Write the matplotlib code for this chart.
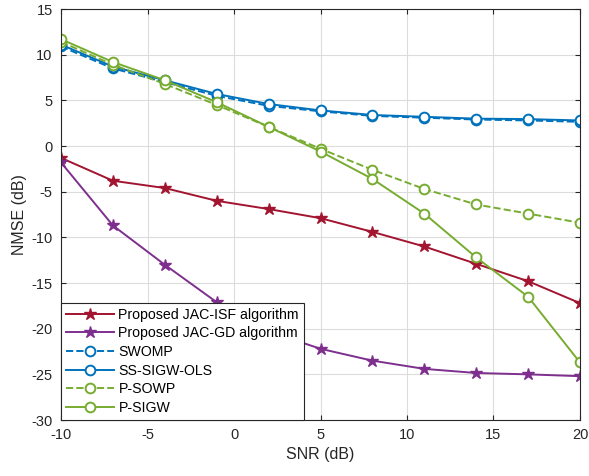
import matplotlib.pyplot as plt
import numpy as np

plt.rcParams['font.family'] = ['Liberation Sans', 'DejaVu Sans']
plt.rcParams['axes.unicode_minus'] = False

# SNR points
snr = [-10, -7, -4, -1, 2, 5, 8, 11, 14, 17, 20]

# NMSE values (dB)
jac_isf = [-1.3, -3.8, -4.6, -6.0, -6.9, -7.9, -9.4, -11.0, -12.9, -14.8, -17.2]
jac_gd = [-1.8, -8.7, -13.0, -17.1, -20.3, -22.2, -23.5, -24.4, -24.85, -25.0, -25.2]
swomp = [10.9, 8.5, 7.0, 5.5, 4.4, 3.8, 3.3, 3.1, 2.9, 2.8, 2.65]
ss_sigw_ols = [11.1, 8.7, 7.2, 5.7, 4.6, 3.9, 3.4, 3.2, 3.0, 2.95, 2.8]
p_sowp = [11.4, 8.9, 6.8, 4.5, 2.1, -0.3, -2.6, -4.7, -6.4, -7.4, -8.4]
p_sigw = [11.7, 9.2, 7.2, 4.8, 2.1, -0.6, -3.6, -7.4, -12.2, -16.5, -23.7]

red = '#A2142F'
purple = '#7E2F8E'
blue = '#0072BD'
green = '#77AC30'

fig = plt.figure(figsize=(5.89, 4.76), dpi=100)
ax = fig.add_axes([0.1036, 0.1176, 0.8811, 0.8634])

ax.plot(snr, jac_isf, color=red, marker='*', markersize=9, lw=1.4, label='Proposed JAC-ISF algorithm')
ax.plot(snr, jac_gd, color=purple, marker='*', markersize=9, lw=1.4, label='Proposed JAC-GD algorithm')
ax.plot(snr, swomp, color=blue, ls='--', marker='o', markersize=7, mfc='white', mew=1.4, lw=1.4, label='SWOMP')
ax.plot(snr, ss_sigw_ols, color=blue, marker='o', markersize=7, mfc='white', mew=1.4, lw=1.4, label='SS-SIGW-OLS')
ax.plot(snr, p_sowp, color=green, ls='--', marker='o', markersize=7, mfc='white', mew=1.4, lw=1.4, label='P-SOWP')
ax.plot(snr, p_sigw, color=green, marker='o', markersize=7, mfc='white', mew=1.4, lw=1.4, label='P-SIGW')

ax.set_xlim(-10, 20)
ax.set_ylim(-30, 15)
ax.set_xticks(np.arange(-10, 21, 5))
ax.set_yticks(np.arange(-30, 16, 5))
ax.grid(True, color='#dcdcdc', lw=0.8)
ax.set_axisbelow(True)
ax.tick_params(direction='in', top=True, right=True, labelsize=10.5, pad=6,
               color='#262626', labelcolor='#262626')
for s in ax.spines.values():
    s.set_color('#262626')
    s.set_linewidth(0.8)

ax.set_xlabel('SNR (dB)', fontsize=11.5, color='#262626', labelpad=3)
ax.set_ylabel('NMSE (dB)', fontsize=11.5, color='#262626', labelpad=3)

leg = ax.legend(loc='lower left', borderaxespad=0, fontsize=10.2, fancybox=False,
                edgecolor='#262626', framealpha=1, handlelength=3.4, labelspacing=0.33,
                borderpad=0.35, handletextpad=0.3)
leg.get_frame().set_linewidth(0.8)

plt.savefig('out.png', dpi=100)
